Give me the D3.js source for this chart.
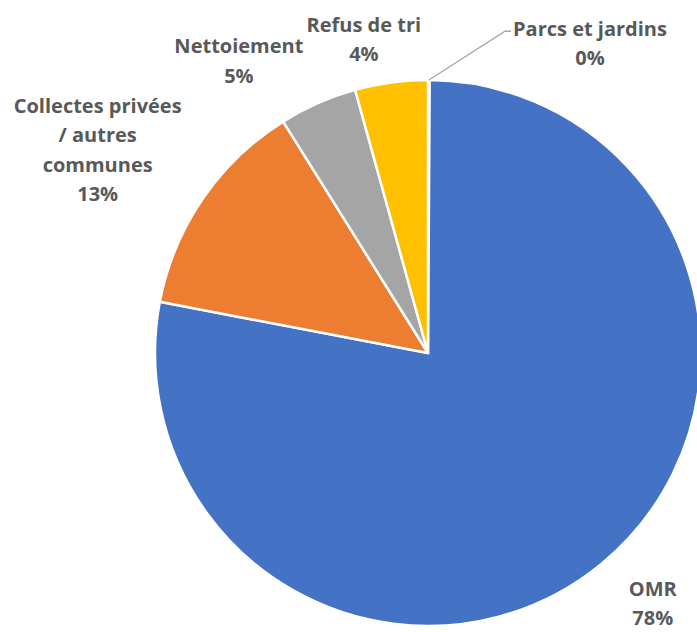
<!DOCTYPE html>
<html>
<head>
<meta charset="utf-8">
<script src="https://cdn.jsdelivr.net/npm/d3@7"></script>
<style>
  body { margin: 0; background: #fff; }
  svg { display: block; }
  .lbl { font-family: "Open Sans", sans-serif; font-weight: bold; font-size: 20px; fill: #595959; }
</style>
</head>
<body>
<div id="chart"></div>
<script>
// slices, clockwise from 12 o'clock
const categories = ["Parcs et jardins", "OMR", "Collectes privées / autres communes", "Nettoiement", "Refus de tri"];
const labelLines = [["Parcs et jardins"], ["OMR"], ["Collectes privées", "/ autres", "communes"], ["Nettoiement"], ["Refus de tri"]];
const values = [0.1, 77.9, 13.1, 4.6, 4.3];
const colors = ["#5B9BD5", "#4472C4", "#ED7D31", "#A5A5A5", "#FFC000"];

const width = 697, height = 632;
const cx = 428, cy = 353, radius = 273;
const lineH = 29.5;
// hand nudges so the labels sit where Excel put them
const nudge = [[161, 3], [26, 8], [-72, -27], [-63, -6], [-22, -4]];

const data = categories.map((c, i) => ({ name: c, lines: labelLines[i], value: values[i], color: colors[i] }));

const svg = d3.select('#chart')
  .append('svg')
  .attr('width', width)
  .attr('height', height);

const g = svg.append('g')
  .attr('transform', `translate(${cx},${cy})`);

const pie = d3.pie().sort(null).value(d => d.value);
const arcs = pie(data);

const arc = d3.arc().innerRadius(0).outerRadius(radius);
const labelArc = d3.arc().innerRadius(radius + 40).outerRadius(radius + 40);

g.selectAll('path.slice')
  .data(arcs)
  .enter().append('path')
  .attr('class', 'slice')
  .attr('d', arc)
  .attr('fill', d => d.data.color)
  .attr('stroke', '#fff')
  .attr('stroke-width', 2.5)
  .attr('stroke-linejoin', 'round');

const fmt = d3.format('.0%');

const labels = g.selectAll('g.label')
  .data(arcs)
  .enter().append('g')
  .attr('class', 'label')
  .attr('transform', (d, i) => {
    const [x, y] = labelArc.centroid(d);
    return `translate(${x + nudge[i][0]},${y + nudge[i][1]})`;
  });

labels.each(function (d) {
  const lines = d.data.lines.concat([fmt(d.data.value / 100)]);
  const t = d3.select(this).append('text')
    .attr('class', 'lbl')
    .attr('text-anchor', 'middle');
  lines.forEach((l, k) => {
    t.append('tspan')
      .attr('x', 0)
      .attr('y', (k - (lines.length - 1) / 2) * lineH)
      .attr('dominant-baseline', 'central')
      .text(l);
  });
});

// leader line for the tiny slice
const tiny = arcs[0];
const tinyLabel = labels.filter((d, i) => i === 0);
const bb = tinyLabel.node().getBBox();
const tr = tinyLabel.attr('transform').match(/translate\(([^,]+),([^)]+)\)/);
const lx = +tr[1] + bb.x - 2, ly = +tr[2] - lineH / 2 + 3;
const a = (tiny.startAngle + tiny.endAngle) / 2;
const p0 = [Math.sin(a) * radius, -Math.cos(a) * radius];
g.append('polyline')
  .attr('points', [p0, [lx - 6, ly], [lx, ly]].map(p => p.join(',')).join(' '))
  .attr('fill', 'none')
  .attr('stroke', '#A6A6A6')
  .attr('stroke-width', 1.3);
</script>
</body>
</html>
